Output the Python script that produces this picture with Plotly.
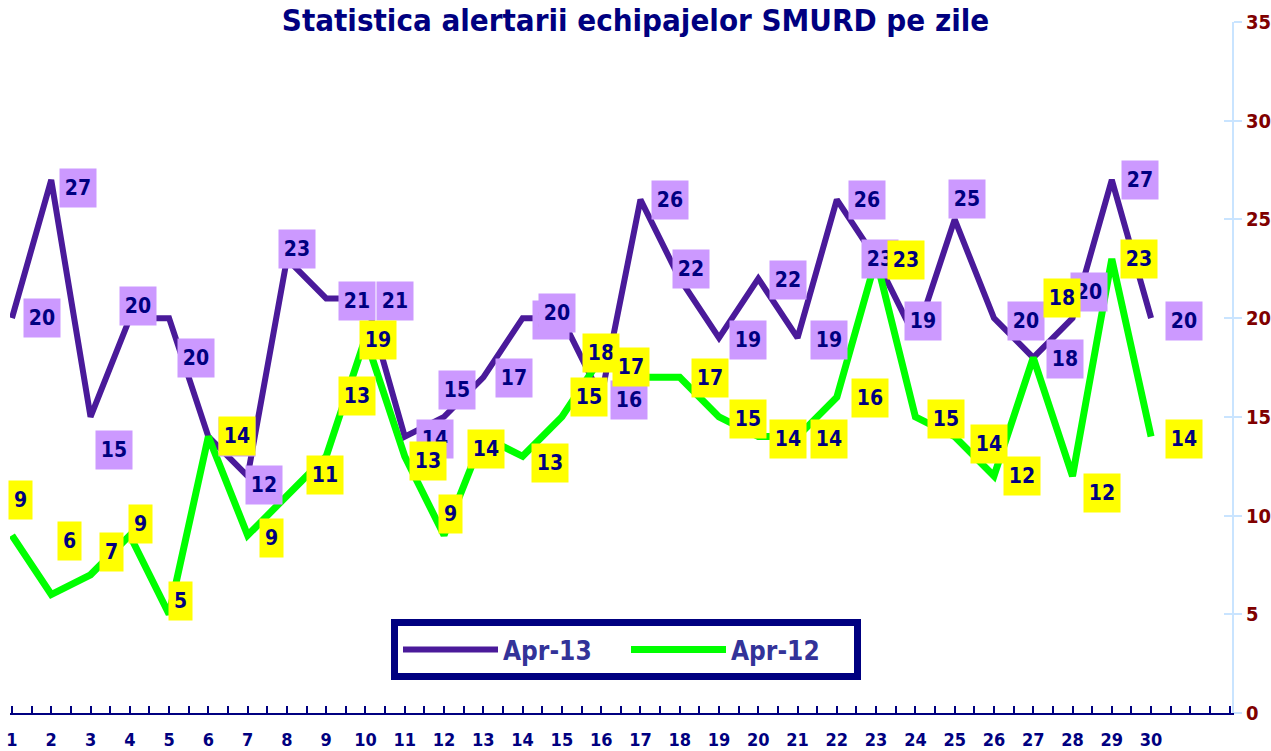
import plotly.graph_objects as go

# ---- data ----
days = list(range(1, 31))
apr13 = [20, 27, 15, 20, 20, 14, 12, 23, 21, 21, 14, 15, 17, 20, 20,
         16, 26, 22, 19, 22, 19, 26, 23, 19, 25, 20, 18, 20, 27, 20]
apr12 = [9, 6, 7, 9, 5, 14, 9, 11, 13, 19, 13, 9, 14, 13, 15,
         18, 17, 17, 15, 14, 14, 16, 23, 15, 14, 12, 18, 12, 23, 14]
series_names = ["Apr-13", "Apr-12"]
y_ticks = [0, 5, 10, 15, 20, 25, 30, 35]
title_text = "Statistica alertarii echipajelor SMURD pe zile"

# ---- label offsets in pixels (right, up) - styling only ----
off13 = [(30, 0), (27, -8), (23, -33), (8, 12), (27, -40), (29, 0), (16, -9), (10, 10),
         (31, -3), (30, -3), (30, -2), (13, 27), (31, -1), (28, -2), (-5, 5), (28, -3),
         (30, 0), (11, 10), (29, -2), (30, -1), (31, -2), (30, 0), (4, 0), (8, 17),
         (12, 20), (32, -3), (32, -1), (16, 26), (28, 0), (33, -3)]
off12 = [(9, 35), (18, 54), (21, 23), (11, 11), (11, 13), (29, 1), (24, -3), (38, 21),
         (31, 60), (13, -2), (23, -5), (6, 21), (3, -12), (27, -7), (27, 20), (0, 5),
         (-9, 10), (30, -1), (29, -2), (30, -2), (31, -2), (33, -1), (30, -1), (31, -2),
         (34, -7), (28, 0), (29, 60), (29, -17), (27, 0), (33, -2)]

FONT = "'DejaVu Sans Condensed', 'DejaVu Sans', sans-serif"
NAVY = "#000080"
PURPLE = "#4A1A9A"
GREEN = "#00FF00"
LIGHT = "#C9E4FF"

fig = go.Figure()
fig.add_trace(go.Scatter(x=days, y=apr13, mode="lines", name=series_names[0],
                         line=dict(color=PURPLE, width=6), hoverinfo="x+y"))
fig.add_trace(go.Scatter(x=days, y=apr12, mode="lines", name=series_names[1],
                         line=dict(color=GREEN, width=7), hoverinfo="x+y"))
# helper trace for the inner half of the crossing y ticks
fig.add_trace(go.Scatter(x=[], y=[], yaxis="y2", showlegend=False, hoverinfo="skip"))

annotations = []
for vals, offs, bg in ((apr13, off13, "#CC99FF"), (apr12, off12, "#FFFF00")):
    for d, v, (dx, dy) in zip(days, vals, offs):
        annotations.append(dict(
            x=d, y=v, xref="x", yref="y", text=f"<b>{v}</b>", showarrow=False,
            xshift=dx, yshift=dy, bgcolor=bg, borderpad=0,
            width=36 if v >= 10 else 23, height=38,
            font=dict(family=FONT, size=21, color=NAVY)))

fig.update_layout(
    width=1271, height=751,
    paper_bgcolor="white", plot_bgcolor="white",
    margin=dict(l=10, r=39, t=22, b=38),
    title=dict(text=f"<b>{title_text}</b>", x=0.5, xanchor="center",
               y=1 - 20 / 751, yanchor="middle", yref="container",
               font=dict(family=FONT, size=31, color=NAVY)),
    xaxis=dict(range=[0.95, 32.06], tickmode="array", tickvals=days,
               ticktext=[str(d) for d in days], showgrid=False, zeroline=False,
               showline=True, linecolor=NAVY, linewidth=2,
               ticks="inside", ticklen=7, tickwidth=1.5, tickcolor=NAVY,
               ticklabelstandoff=9, automargin=False,
               minor=dict(tickmode="linear", tick0=1, dtick=0.5, ticks="inside",
                          ticklen=7, tickwidth=1.5, tickcolor=NAVY, showgrid=False),
               tickfont=dict(family=FONT, size=18, color=NAVY, weight="bold")),
    yaxis=dict(range=[0, 35], side="right", tickmode="array", tickvals=y_ticks,
               showgrid=False, zeroline=False, showline=True, linecolor=LIGHT,
               linewidth=2, ticks="outside", ticklen=8, tickwidth=2, tickcolor=LIGHT,
               ticklabelstandoff=0, automargin=False,
               tickfont=dict(family=FONT, size=20, color="#800000", weight="bold")),
    yaxis2=dict(range=[0, 35], side="right", overlaying="y", tickmode="array",
                tickvals=y_ticks, showticklabels=False, showgrid=False, zeroline=False,
                showline=False, ticks="inside", ticklen=8, tickwidth=2, tickcolor=LIGHT,
                automargin=False),
    legend=dict(orientation="h", x=(391 - 10) / 1222, y=(713 - 619) / 691,
                xanchor="left", yanchor="top", bgcolor="white",
                bordercolor=NAVY, borderwidth=7, itemwidth=95,
                entrywidth=118, entrywidthmode="pixels",
                font=dict(family=FONT, size=26, color="#333399", weight="bold")),
    annotations=annotations,
    showlegend=True,
)

fig.write_html("out.html", config={"displayModeBar": False},
               post_script="document.body.style.margin='0';document.body.style.overflow='hidden';")
